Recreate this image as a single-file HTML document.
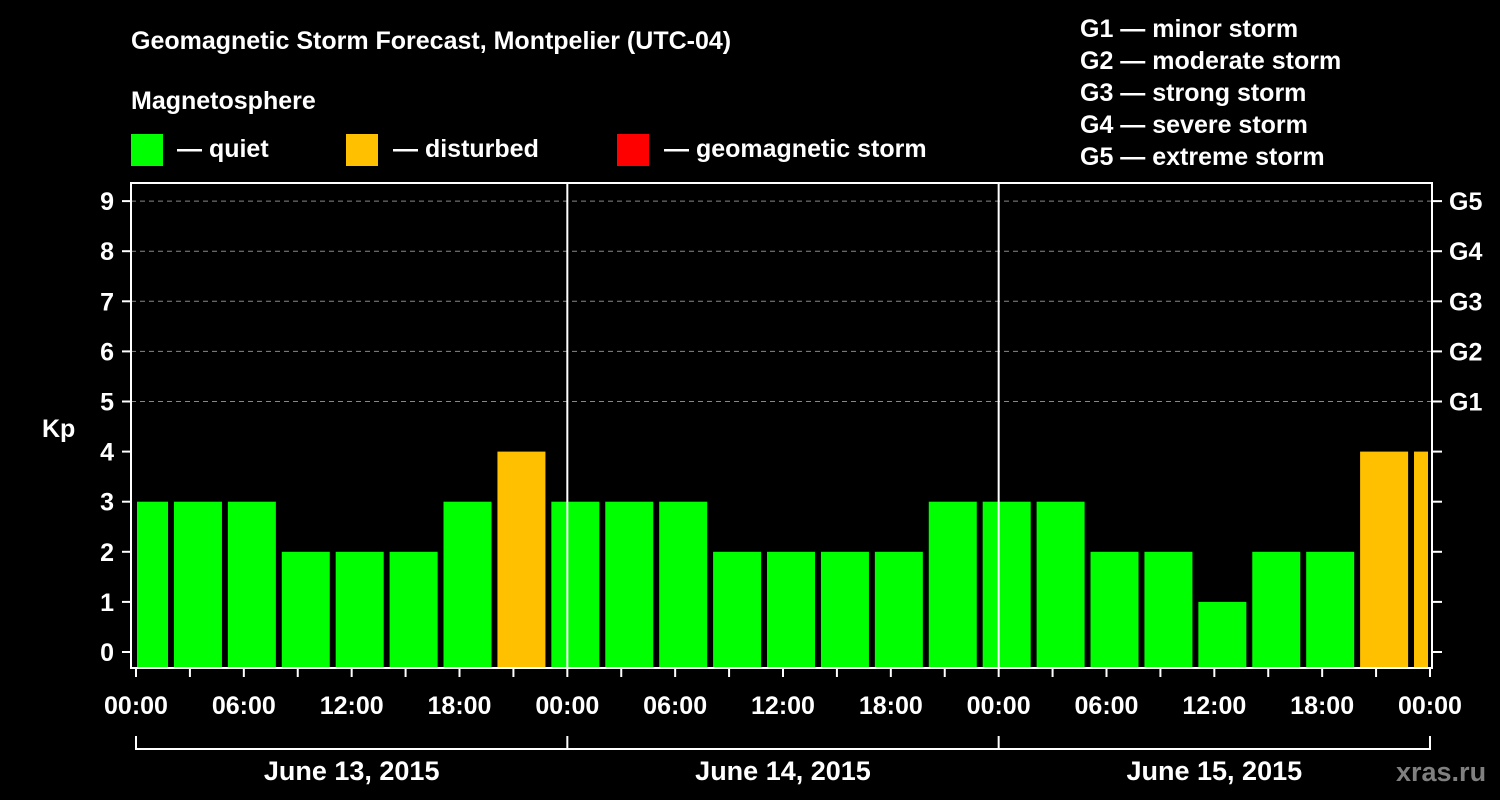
<!DOCTYPE html>
<html><head><meta charset="utf-8"><style>
html,body{margin:0;padding:0;background:#000;width:1500px;height:800px;overflow:hidden}
svg text{font-family:"Liberation Sans",sans-serif;font-weight:bold;fill:#fff}
</style></head><body>
<svg id="chart" width="1500" height="800" viewBox="0 0 1500 800" xmlns="http://www.w3.org/2000/svg">
<text x="131" y="49" font-size="25">Geomagnetic Storm Forecast, Montpelier (UTC-04)</text>
<text x="131" y="109" font-size="25">Magnetosphere</text>
<g><rect x="131" y="134" width="32" height="32" fill="#00ff00"/><text x="177" y="157" font-size="25">— quiet</text></g>
<g><rect x="346" y="134" width="32" height="32" fill="#ffc000"/><text x="393" y="157" font-size="25">— disturbed</text></g>
<g><rect x="617" y="134" width="32" height="32" fill="#ff0000"/><text x="664" y="157" font-size="25">— geomagnetic storm</text></g>
<g font-size="25">
<text x="1080" y="37">G1 — minor storm</text>
<text x="1080" y="69">G2 — moderate storm</text>
<text x="1080" y="101">G3 — strong storm</text>
<text x="1080" y="133">G4 — severe storm</text>
<text x="1080" y="165">G5 — extreme storm</text>
</g>
<text x="42" y="437" font-size="25">Kp</text>
<g id="grid"></g>
<g id="bars"></g>
<g id="axes"></g>
<text x="1396" y="781" font-size="27" style="fill:#808080">xras.ru</text>
</svg>
<script>
const kpValues = [3,3,3,2,2,2,3,4,3,3,3,2,2,2,2,3,3,3,2,2,1,2,2,4,4];
const firstBarHour = -1;
const dayLabels = ["June 13, 2015","June 14, 2015","June 15, 2015"];
const hourLabels = ["00:00","06:00","12:00","18:00"];
const gLevels = ["G1","G2","G3","G4","G5"];

const NS="http://www.w3.org/2000/svg";
const X0=136, PXH=431.33/24, Y0=652, PXK=50.1;
const L=131, R=1432, T=183, B=668;
const x=h=>X0+h*PXH, y=k=>Y0-k*PXK;
function mk(tag,attrs,parent){const e=document.createElementNS(NS,tag);for(const k in attrs)e.setAttribute(k,attrs[k]);parent.appendChild(e);return e;}
const grid=document.getElementById('grid'), bars=document.getElementById('bars'), axes=document.getElementById('axes');

for(let k=5;k<=9;k++){
  const ln=mk('line',{x1:L,x2:R,y1:y(k),y2:y(k),stroke:'#888','stroke-width':1,'stroke-dasharray':'5,4'},grid);
  
  
}
kpValues.forEach((v,i)=>{
  const h=firstBarHour+3*i;
  let x1=Math.max(x(h)+2,L+6), x2=Math.min(x(h)+50,R-4);
  const c=v>=5?'#ff0000':(v>=4?'#ffc000':'#00ff00');
  const r=mk('rect',{x:x1,y:y(v),width:x2-x1,height:B-y(v),fill:c},bars);
  
  
});
// frame
const fr=mk('path',{d:`M${L},${B} L${L},${T} L${R},${T} L${R},${B} Z`,fill:'none',stroke:'#fff','stroke-width':2},axes);


for(let d=1;d<dayLabels.length;d++){
  const v=mk('line',{x1:x(24*d),x2:x(24*d),y1:T,y2:B,stroke:'#fff','stroke-width':2},axes);
  
  
}
for(let k=0;k<=9;k++){
  mk('line',{x1:L-9,x2:L,y1:y(k),y2:y(k),stroke:'#fff','stroke-width':2},axes);
  mk('line',{x1:R,x2:R+10,y1:y(k),y2:y(k),stroke:'#fff','stroke-width':2},axes);
  const t=mk('text',{x:L-17,y:y(k)+9,'text-anchor':'end','font-size':25},axes);
  t.textContent=k;
  
  
}
gLevels.forEach((g,i)=>{
  const t=mk('text',{x:1449,y:y(5+i)+9,'font-size':25},axes);
  t.textContent=g;
  
  
});
for(let h=0;h<=72;h+=3){
  mk('line',{x1:x(h),x2:x(h),y1:B,y2:B+9,stroke:'#fff','stroke-width':2},axes);
}
for(let h=0;h<=72;h+=6){
  const t=mk('text',{x:x(h),y:714,'text-anchor':'middle','font-size':25},axes);
  t.textContent=hourLabels[(h/6)%4];
  
  
}
mk('path',{d:`M${x(0)},736 L${x(0)},749 L${x(72)},749 L${x(72)},736`,fill:'none',stroke:'#fff','stroke-width':2},axes);
dayLabels.forEach((d,i)=>{
  if(i>0) mk('line',{x1:x(24*i),x2:x(24*i),y1:736,y2:749,stroke:'#fff','stroke-width':2},axes);
  const t=mk('text',{x:x(24*i+12),y:780,'text-anchor':'middle','font-size':27},axes);
  t.textContent=d;
  
  
});
</script>
</body></html>
